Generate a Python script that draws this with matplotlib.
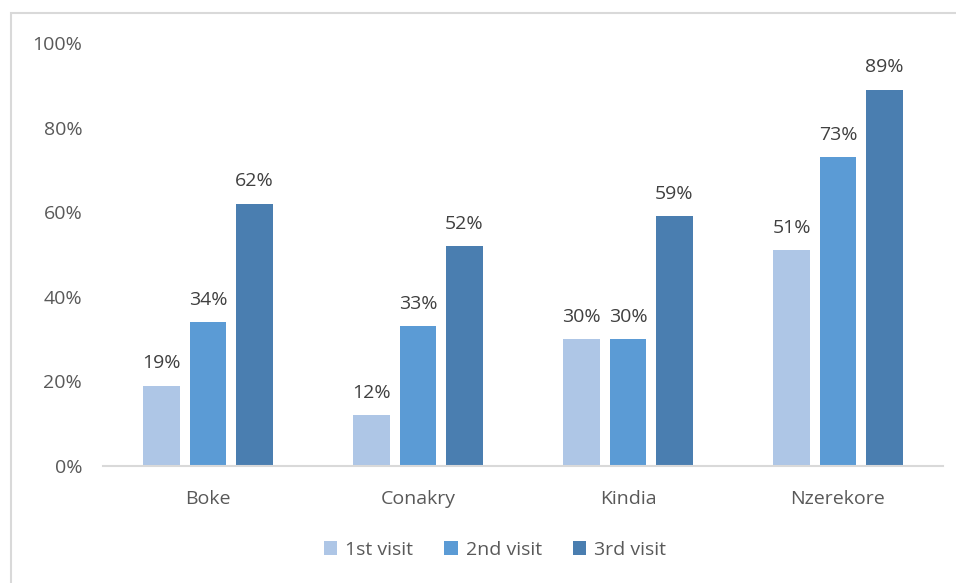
import numpy as np
import matplotlib.pyplot as plt
from matplotlib.patches import Rectangle

regions = ['Boke', 'Conakry', 'Kindia', 'Nzerekore']
series = ['1st visit', '2nd visit', '3rd visit']
visit1 = [19, 12, 30, 51]
visit2 = [34, 33, 30, 73]
visit3 = [62, 52, 59, 89]
colors = ['#AEC6E6', '#5B9BD5', '#4A7EB0']

plt.rcParams['font.family'] = ['Open Sans', 'DejaVu Sans']

fig = plt.figure(figsize=(9.56, 5.83), dpi=100)
# light frame round the chart area
fig.patches.append(Rectangle((11 / 956, -0.1), 1.2, 1 - 13 / 583 + 0.1,
                             transform=fig.transFigure, fill=False,
                             edgecolor='#D9D9D9', linewidth=1.5))
ax = fig.add_axes([103 / 956, 117 / 583, 840 / 956, 423 / 583])

x = np.arange(len(regions))
width = 0.176
step = 0.221
for i, (vals, name) in enumerate(zip([visit1, visit2, visit3], series)):
    pos = x + (i - 1) * step
    ax.bar(pos, vals, width=width, color=colors[i], label=name)
    for px, v in zip(pos, vals):
        ax.text(px, v + 3.2, '%d%%' % v, ha='center', va='bottom',
                fontsize=14, color='#404040')

ax.set_xlim(-0.5, 3.5)
ax.set_ylim(0, 100)
ax.set_yticks(range(0, 101, 20))
ax.set_yticklabels(['%d%%' % t for t in range(0, 101, 20)])
ax.set_xticks(x)
ax.set_xticklabels(regions)
ax.tick_params(length=0, labelsize=14, labelcolor='#595959')
ax.tick_params(axis='y', pad=15)
ax.tick_params(axis='x', pad=17)
for s in ['top', 'right', 'left']:
    ax.spines[s].set_visible(False)
ax.spines['bottom'].set_color('#D9D9D9')
ax.spines['bottom'].set_linewidth(1.5)

leg = ax.legend(loc='center', bbox_to_anchor=(495 / 956, 33 / 583),
                bbox_transform=fig.transFigure, ncol=3, frameon=False,
                fontsize=14, handlelength=0.7, handleheight=0.7,
                columnspacing=1.6, handletextpad=0.4)
for t in leg.get_texts():
    t.set_color('#595959')

plt.savefig('out.png')
